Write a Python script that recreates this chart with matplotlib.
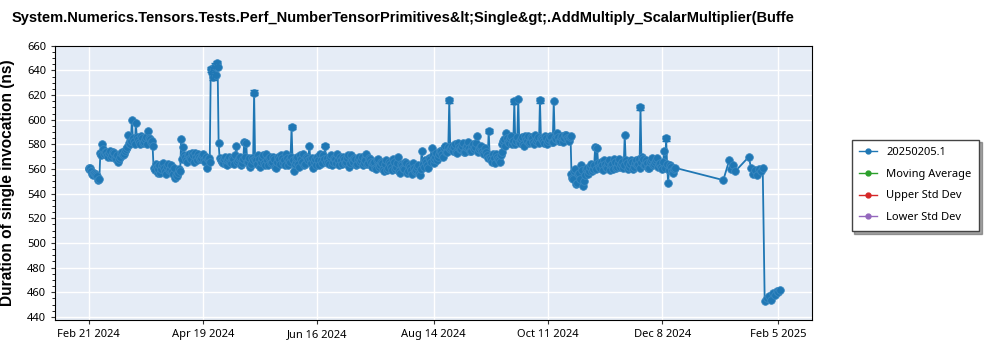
import numpy as np
import pandas as pd
import matplotlib
matplotlib.use("Agg")
import matplotlib.pyplot as plt
from matplotlib.ticker import MultipleLocator
from matplotlib.lines import Line2D

plt.rcParams['font.family'] = ['Noto Sans', 'DejaVu Sans']
BOLD_FONT = ['Liberation Sans', 'DejaVu Sans']

title = "System.Numerics.Tensors.Tests.Perf_NumberTensorPrimitives&lt;Single&gt;.AddMultiply_ScalarMultiplier(Buffe"

# morning runs, one per day, Feb 21 2024 -> Dec 14 2024
main_start = "2024-02-21"
am_vals = [
    561, 561, 556, 557, 555, 551, 573, 580,
    572, 574, 570, 575, 571, 573, 568, 566, 570, 574, 572, 576,
    588, 580, 600, 583, 597, 584, 580, 585, 582, 586, 591, 584, 583,
    561, 564, 557, 563, 560, 565, 558, 562, 559, 563, 556, 553, 554, 560,
    584, 578,
    570, 566, 572, 568, 571, 573, 567, 570, 569, 572, 566, 561, 569,
    641, 635, 644, 646, 581, 567,
    565, 570, 563, 568, 566, 569, 564, 579, 567, 570, 565, 582, 581, 566, 562, 569,
    622,
    567, 571, 562, 569, 565, 572, 563, 570, 566, 568, 561, 570, 564, 569, 567, 572, 563, 566,
    594, 558,
    566, 570, 562, 568, 572, 564, 569,
    579,
    565, 561, 568, 570, 563, 567, 571,
    579,
    569, 564, 571, 566, 568, 572, 563, 567, 570, 565, 569, 562, 571, 566, 568, 564,
    570, 567, 563, 569, 572, 565, 568,
    562, 566, 560, 568, 563, 565, 558, 567, 561, 564, 559, 566, 562, 570, 557, 563,
    560, 565, 558, 562, 556, 561, 559, 563, 555,
    575, 562, 566, 561, 568, 577, 565, 570, 567, 572, 575, 570, 579, 574, 616, 577,
    575, 580, 573, 578, 576, 581, 574, 579, 577, 575, 580, 578, 587, 576, 579, 573, 577, 571,
    591, 568, 572, 565, 570, 567, 571,
    580, 584, 589, 582, 585, 580, 615, 583, 617, 581, 586, 579, 584, 587, 582, 585,
    580, 583, 586, 616, 584, 581, 585, 583, 587, 582, 615, 584, 586, 583, 587, 585,
    588, 584, 586,
    556, 552, 560, 549, 557, 563, 546, 555, 561, 558, 564, 560, 578, 577, 562, 566,
    559, 564, 561, 567, 563, 560, 566, 562, 568, 564, 561, 588, 565, 562, 567, 560,
    565, 563, 568, 610, 570, 563, 567, 561, 566, 569, 564, 567, 562, 565, 560, 575,
    585, 549, 563, 558, 560,
]

# afternoon runs, same days
pm_vals = [
    560, 558, 555, 556, 554, 552, 571, 576,
    574, 571, 573, 570, 574, 569, 571, 568, 573, 571, 575, 578,
    581, 583, 585, 580, 586, 582, 587, 581, 584, 580, 585, 582, 579,
    559, 562, 560, 557, 563, 561, 556, 564, 560, 558, 561, 555, 557, 558,
    568, 571,
    567, 571, 569, 573, 566, 570, 572, 568, 571, 567, 570, 568, 566,
    638, 642, 636, 643, 569, 566,
    568, 564, 567, 570, 565, 568, 571, 566, 569, 563, 568, 570, 566, 569, 564, 567,
    568,
    564, 568, 566, 571, 563, 567, 569, 565, 570, 562, 566, 568, 571, 565, 563, 569, 567, 570,
    567, 564,
    569, 564, 571, 566, 563, 570, 567,
    568,
    569, 566, 563, 567, 572, 565, 568,
    566,
    566, 570, 563, 569, 565, 567, 570, 564, 568, 566, 571, 565, 567, 569, 563, 568,
    566, 570, 565, 567, 564, 569, 566,
    565, 561, 567, 562, 566, 560, 564, 559, 566, 562, 568, 560, 565, 558, 564, 561,
    566, 557, 563, 559, 565, 558, 562, 557, 560,
    564, 567, 563, 569, 566, 571, 568, 573, 570, 575, 572, 577, 574, 578, 576, 579,
    578, 574, 581, 576, 579, 574, 578, 582, 575, 579, 576, 581, 574, 578, 575, 572, 574, 569,
    570, 566, 569, 572, 568, 566, 574,
    583, 579, 585, 581, 587, 583, 580, 586, 582, 584, 580, 587, 583, 581, 586, 582,
    588, 584, 581, 585, 583, 587, 580, 584, 586, 582, 585, 589, 583, 586, 582, 588,
    585, 583, 587,
    553, 558, 548, 556, 552, 559, 550, 560, 556, 562, 558, 563, 560, 565, 561, 563,
    567, 562, 565, 559, 564, 568, 561, 565, 562, 566, 563, 567, 560, 564, 566, 562,
    567, 564, 561, 566, 568, 563, 565, 561, 567, 563, 566, 569, 564, 562, 566, 561,
    564, 559, 562, 557, 561,
]

# sparser runs in 2025
late_dates = [
    "2025-01-08", "2025-01-11", "2025-01-12", "2025-01-13", "2025-01-14",
    "2025-01-21", "2025-01-22", "2025-01-23", "2025-01-24", "2025-01-25",
    "2025-01-26", "2025-01-27", "2025-01-28", "2025-01-29", "2025-01-30",
    "2025-01-31", "2025-02-01", "2025-02-02", "2025-02-03", "2025-02-04",
    "2025-02-05", "2025-02-06",
]
late_vals = [
    551, 567, 560, 563, 558,
    570, 561, 556, 559, 555,
    560, 558, 561, 453, 455,
    457, 454, 459, 458, 461,
    460, 462,
]

# runs with a visible std error
err_dates = ["2024-04-23", "2024-04-24", "2024-04-25", "2024-04-26", "2024-05-15",
             "2024-06-03", "2024-06-20", "2024-08-22", "2024-09-11", "2024-09-24",
             "2024-10-07", "2024-11-27", "2024-12-10"]
err_sizes = [2.0, 2.5, 2.0, 2.0, 2.0, 1.5, 1.5, 2.0, 1.5, 2.0, 2.0, 2.0, 2.0]

tick_dates = ["2024-02-21", "2024-04-19", "2024-06-16", "2024-08-14",
              "2024-10-11", "2024-12-08", "2025-02-05"]
tick_labels = ["Feb 21 2024", "Apr 19 2024", "Jun 16 2024", "Aug 14 2024",
               "Oct 11 2024", "Dec 8 2024", "Feb 5 2025"]

legend_labels = ["20250205.1", "Moving Average", "Upper Std Dev", "Lower Std Dev"]
legend_colors = ["#1f77b4", "#2ca02c", "#d62728", "#9467bd"]

am_idx = pd.date_range(main_start, periods=len(am_vals), freq="D")
pm_idx = pd.date_range(main_start, periods=len(pm_vals), freq="D") + pd.Timedelta(hours=12)
series = pd.concat([
    pd.Series(am_vals, index=am_idx, dtype=float),
    pd.Series(pm_vals, index=pm_idx, dtype=float),
    pd.Series(late_vals, index=pd.to_datetime(late_dates), dtype=float),
]).sort_index()

fig = plt.figure(figsize=(10, 3.5), dpi=100)
ax = fig.add_axes([0.055, 0.086, 0.757, 0.783])
ax.set_facecolor("#e5ecf6")

ax.plot(series.index, series.values, '-o', color="#1f77b4", lw=1.3, ms=5.5,
        markeredgewidth=0.6, markeredgecolor="#3a88c0", zorder=3)

edates = pd.to_datetime(err_dates)
ax.errorbar(edates, series.loc[edates].values, yerr=err_sizes, fmt='none',
            ecolor="#1f77b4", elinewidth=1, capsize=3, zorder=4)

ax.set_ylim(437.5, 660)
ax.set_xlim(pd.Timestamp("2024-02-04"), pd.Timestamp("2025-02-22"))
ax.yaxis.set_major_locator(MultipleLocator(20))
ax.yaxis.set_minor_locator(MultipleLocator(5))
ax.set_xticks(pd.to_datetime(tick_dates))
ax.set_xticklabels(tick_labels)
ax.tick_params(axis='both', labelsize=8, length=3, color="#333333")
ax.tick_params(axis='y', which='minor', length=2)
ax.grid(True, which='major', color='white', lw=1)
ax.set_axisbelow(True)
for s in ax.spines.values():
    s.set_color("black")

ax.set_ylabel("Duration of single invocation (ns)", fontsize=11.2, fontweight='bold',
              family=BOLD_FONT)
ax.yaxis.set_label_coords(-0.053, 0.5)
fig.text(0.012, 0.948, title, fontsize=10.5, fontweight='bold', family=BOLD_FONT,
         ha='left', va='center')

handles = [Line2D([0], [0], color=c, marker='o', ms=3.5, lw=1) for c in legend_colors]
leg = fig.legend(handles, legend_labels, loc='upper left', bbox_to_anchor=(0.846, 0.617),
                 fontsize=8, frameon=True, fancybox=False, shadow=True,
                 edgecolor="#444444", handlelength=1.6, borderpad=0.7, labelspacing=0.95)
leg.get_frame().set_linewidth(1)

fig.savefig("out.png", dpi=100)
